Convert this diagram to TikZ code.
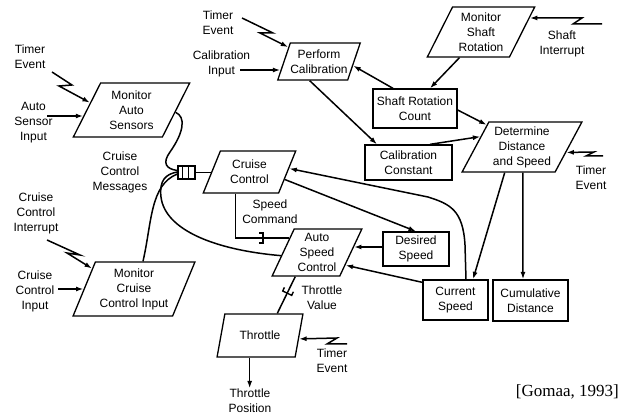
\documentclass[tikz,border=0pt]{standalone}
\usepackage{fontspec}
\newfontfamily\dgsans{Liberation Sans}
\newfontfamily\dgserif{Liberation Serif}
\newcommand\dgfont{\dgsans\fontsize{12}{15}\selectfont}
\usetikzlibrary{shapes.geometric,arrows.meta,decorations.markings,calc}

\tikzset{
  wire/.style={line width=1.5pt, draw=black},
  arr/.style={wire, -{Latex[length=7.5pt,width=5pt]}},
  para/.style 2 args={draw, line width=1.3pt, shape=trapezium,
    trapezium left angle=#1, trapezium right angle=#2,
    trapezium stretches=true, inner sep=0pt, align=center, font=\dgfont},
  box/.style={draw, line width=1.3pt, rectangle, inner sep=0pt,
    align=center, font=\dgfont},
  lbl/.style={align=center, font=\dgfont, inner sep=0pt},
  msgbar/.style={postaction={decorate, decoration={markings,
    mark=at position #1 with {\draw[line width=1.4pt]
      (-4,5) -- (0,5) -- (0,-5) -- (-4,-5);}}}}
}

\begin{document}
\begin{tikzpicture}[x=1pt,y=-1pt]
\useasboundingbox (0,0) rectangle (619,414);

% transformations (parallelograms)
\node[para={63.4}{116.6}, minimum width=117pt, minimum height=54pt] (mas) at (131.5,110) {Monitor\\Auto\\Sensors};
\node[para={62.2}{117.8}, minimum width=82pt, minimum height=37pt] (pc) at (319,61.5) {Perform\\Calibration};
\node[para={63}{117}, minimum width=108pt, minimum height=50pt] (msr) at (481,32) {Monitor\\Shaft\\Rotation};
\node[para={60.3}{119.7}, minimum width=120pt, minimum height=50pt] (dds) at (522,147) {Determine\\Distance\\and Speed};
\node[para={64.5}{115.5}, minimum width=93pt, minimum height=42pt] (cc) at (249.5,172) {Cruise\\Control};
\node[para={64}{116}, minimum width=90pt, minimum height=47pt] (asc) at (317,252.5) {Auto\\Speed\\Control};
\node[para={64.3}{115.7}, minimum width=122pt, minimum height=54pt] (mcci) at (134,289) {Monitor\\Cruise\\Control Input};
\node[para={63}{117}, minimum width=86pt, minimum height=43pt] (thr) at (260,335.5) {Throttle};

% data stores
\node[box, minimum width=84pt, minimum height=39pt] (src) at (415,108.5) {Shaft Rotation\\Count};
\node[box, minimum width=87pt, minimum height=35pt] (calconst) at (408.5,162.5) {Calibration\\Constant};
\node[box, minimum width=66pt, minimum height=34pt] (ds) at (416,249) {Desired\\Speed};
\node[box, minimum width=65pt, minimum height=40pt] (cs) at (455.5,300) {Current\\Speed};
\node[box, minimum width=75pt, minimum height=41pt] (cd) at (530.5,300.5) {Cumulative\\Distance};

% message queue
\node[draw, line width=1.3pt, minimum width=17pt, minimum height=13pt, inner sep=0pt] (q) at (186.5,172.5) {};
\draw[line width=1.3pt] ([xshift=5pt]q.north west) -- ([xshift=5pt]q.south west);
\draw[line width=1.3pt] ([xshift=11pt]q.north west) -- ([xshift=11pt]q.south west);

% external labels
\node[lbl] (te1) at (30,57) {Timer\\Event};
\node[lbl] (asi) at (33.5,123) {Auto\\Sensor\\Input};
\node[lbl] (te2) at (218,22.5) {Timer\\Event};
\node[lbl] (ci) at (221.5,64) {Calibration\\Input};
\node[lbl] (si) at (562,44) {Shaft\\Interrupt};
\node[lbl] (te3) at (591,177.5) {Timer\\Event};
\node[lbl] (ccm) at (120,172.5) {Cruise\\Control\\Messages};
\node[lbl] (cci) at (36,213) {Cruise\\Control\\Interrupt};
\node[lbl] (ccin) at (35,291) {Cruise\\Control\\Input};
\node[lbl] (sc) at (270,212) {Speed\\Command};
\node[lbl] (tv) at (322,298) {Throttle\\Value};
\node[lbl] (te4) at (332,361) {Timer\\Event};
\node[lbl] (tp) at (250,400.5) {Throttle\\Position};
\node[inner sep=0pt, anchor=east, font=\dgserif\fontsize{17}{19}\selectfont] (ref) at (619,392) {[Gomaa, 1993]};

% free ends of the input arrows
\coordinate (te1z) at (52,72);
\coordinate (asie) at (47,116);
\coordinate (te2z) at (242,18);
\coordinate (cie) at (240,70);
\coordinate (siz) at (602,24);
\coordinate (te3z) at (603,156);
\coordinate (cciz) at (47,240);
\coordinate (ccine) at (58,289);
\coordinate (te4z) at (347,344);

% event inputs
\draw[arr] (te1z) -- ++(20,13) -- ++(-13,1) -- (mas.170);
\draw[arr] (asie) -- (asie -| mas.187);
\draw[arr] (te2z) -- ++(31,15) -- ++(-13,0) -- (pc.155);
\draw[arr] (cie) -- (cie -| pc.193);
\draw[arr] (siz) -- ++(-29,0) -- ++(9,-6) -- (msr.16);
\draw[arr] (te3z) -- ++(-17,0) -- ++(8,-4) -- (dds.-7);
\draw[arr] (cciz) -- ++(33,15) -- ++(-13,-2) -- (mcci.154);
\draw[arr] (ccine) -- (ccine -| mcci.180);
\draw[arr] (te4z) -- ++(-20,0) -- ++(10,-6) -- (thr.-5);

% data flows
\draw[arr] (msr.230) -- ([xshift=15pt]src.north);
\draw[arr] ([xshift=-22pt]src.north) -- (pc.-7);
\draw[arr] (pc.244) -- ([xshift=-31.5pt]calconst.north);
\draw[arr] ([yshift=-1.5pt]src.east) -- (dds.148);
\draw[arr] ([xshift=21.5pt]calconst.north) -- (dds.166);
\draw[arr] (dds.236) -- ([xshift=17.5pt]cs.north);
\draw[arr] (dds.272) -- ([xshift=-7.5pt]cd.north);
\draw[arr] ([xshift=10.5pt]cs.north) -- (465,245) .. controls (463,210) and (450,204) .. (428,197) -- (cc.5);
\draw[arr] (cc.-12) -- (ds.north);
\draw[arr] ([yshift=2pt]ds.west) -- ([yshift=2pt]ds.west -| asc.8.6);
\draw[arr] ([yshift=-3pt]cs.north west) -- (asc.-24);
\draw[arr] (thr.245) -- (thr.245 |- tp.north);

% messages
\draw[wire, msgbar=0.73] (cc.237) |- (asc.152);
\draw[wire, msgbar=0.45] (asc.228) -- (thr.52);
\draw[wire] (q.east) -- (q.east -| cc.180);
\draw[wire] (mas.-3) .. controls (186,117) and (184,132) .. (170,152)
  .. controls (162,163) and (166,169) .. ([yshift=2pt]q.west);
\draw[wire] (mcci.72) .. controls (152,222) and (150,185) .. ([yshift=-1.5pt]q.west);
\draw[wire] (asc.185) .. controls (215,250) and (165,230) .. (161,197)
  .. controls (159,180) and (166,174) .. ([yshift=0.5pt]q.west);
\end{tikzpicture}
\end{document}
